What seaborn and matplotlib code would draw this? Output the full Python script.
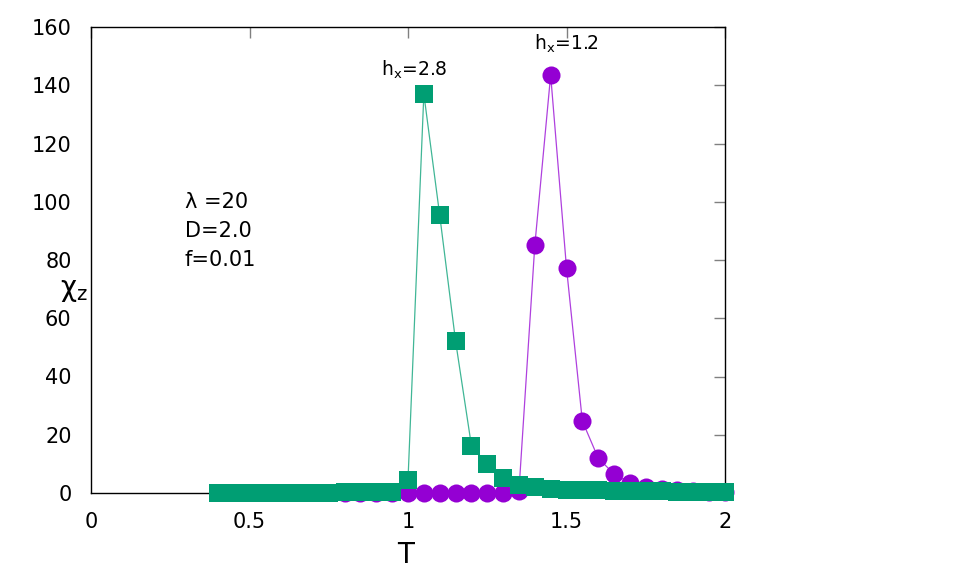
import matplotlib
matplotlib.use("Agg")
import matplotlib.pyplot as plt
import seaborn as sns
import pandas as pd

# Green squares, h_x = 2.8
T_green = [0.40, 0.45, 0.50, 0.55, 0.60, 0.65, 0.70, 0.75, 0.80, 0.85, 0.90, 0.95,
           1.00, 1.05, 1.10, 1.15, 1.20, 1.25, 1.30, 1.35, 1.40, 1.45, 1.50, 1.55,
           1.60, 1.65, 1.70, 1.75, 1.80, 1.85, 1.90, 1.95, 2.00]
chi_green = [0.1, 0.1, 0.1, 0.1, 0.1, 0.1, 0.15, 0.15, 0.2, 0.2, 0.3, 0.4,
             4.5, 137.0, 95.4, 52.2, 16.3, 9.8, 5.3, 2.8, 2.0, 1.5, 1.2, 1.0,
             0.9, 0.8, 0.7, 0.6, 0.55, 0.5, 0.45, 0.4, 0.35]

# Purple circles, h_x = 1.2
T_purple = [0.80, 0.85, 0.90, 0.95, 1.00, 1.05, 1.10, 1.15, 1.20, 1.25, 1.30, 1.35,
            1.40, 1.45, 1.50, 1.55, 1.60, 1.65, 1.70, 1.75, 1.80, 1.85, 1.90, 1.95, 2.00]
chi_purple = [0, 0, 0, 0, 0, 0, 0, 0, 0, 0, 0, 0.8,
              85.0, 143.5, 77.3, 24.7, 12.0, 6.5, 3.5, 2.2, 1.5, 1.0, 0.7, 0.5, 0.4]

x_ticks = [0, 0.5, 1, 1.5, 2]
x_ticklabels = ["0", "0.5", "1", "1.5", "2"]
y_ticks = [0, 20, 40, 60, 80, 100, 120, 140, 160]

GREEN = "#009E73"
PURPLE = "#9400D3"

sns.set_style("white")
plt.rcParams["font.family"] = ["DejaVu Sans"]
plt.rcParams["text.color"] = "black"
plt.rcParams["xtick.labelcolor"] = "black"
plt.rcParams["ytick.labelcolor"] = "black"

fig = plt.figure(figsize=(9.58, 5.75), dpi=100)
ax = fig.add_axes([91 / 958, 1 - 493 / 575, (725 - 91) / 958, (493 - 27) / 575])

df_p = pd.DataFrame({"T": T_purple, "chi": chi_purple})
df_g = pd.DataFrame({"T": T_green, "chi": chi_green})

sns.lineplot(data=df_p, x="T", y="chi", ax=ax, color=PURPLE, lw=0.9, alpha=0.75,
             zorder=2, clip_on=False)
sns.lineplot(data=df_p, x="T", y="chi", ax=ax, color=PURPLE, lw=0, marker="o",
             markersize=13, markeredgewidth=0, zorder=3, clip_on=False)
sns.lineplot(data=df_g, x="T", y="chi", ax=ax, color=GREEN, lw=0.9, alpha=0.75,
             zorder=4, clip_on=False)
sns.lineplot(data=df_g, x="T", y="chi", ax=ax, color=GREEN, lw=0, marker="s",
             markersize=13, markeredgewidth=0, zorder=5, clip_on=False)

ax.set_xlim(0, 2)
ax.set_ylim(0, 160)
ax.set_xticks(x_ticks)
ax.set_xticklabels(x_ticklabels)
ax.set_yticks(y_ticks)
ax.tick_params(direction="in", length=8, width=1, color="#808080",
               top=True, right=True, labelsize=15, pad=14, labelcolor="black")
for s in ax.spines.values():
    s.set_color("black")
    s.set_linewidth(1)
    s.set_zorder(1)

ax.set_xlabel("")
ax.set_ylabel("")
fig.text(406 / 958, 1 - 555 / 575, "T", fontsize=20, ha="center", va="center")
fig.text(74 / 958, 1 - 290 / 575, r"$\mathregular{\chi}_{\mathregular{z}}$",
         fontsize=20, ha="center", va="center")

ax.text(1.018, 141.5, r"h$_\mathregular{x}$=2.8", fontsize=13.5, ha="center", va="bottom")
ax.text(1.5, 150.5, r"h$_\mathregular{x}$=1.2", fontsize=13.5, ha="center", va="bottom")
ax.text(0.295, 100, "λ =20", fontsize=15, ha="left", va="center")
ax.text(0.295, 90, "D=2.0", fontsize=15, ha="left", va="center")
ax.text(0.295, 80, "f=0.01", fontsize=15, ha="left", va="center")

fig.savefig("out.png", dpi=100)
